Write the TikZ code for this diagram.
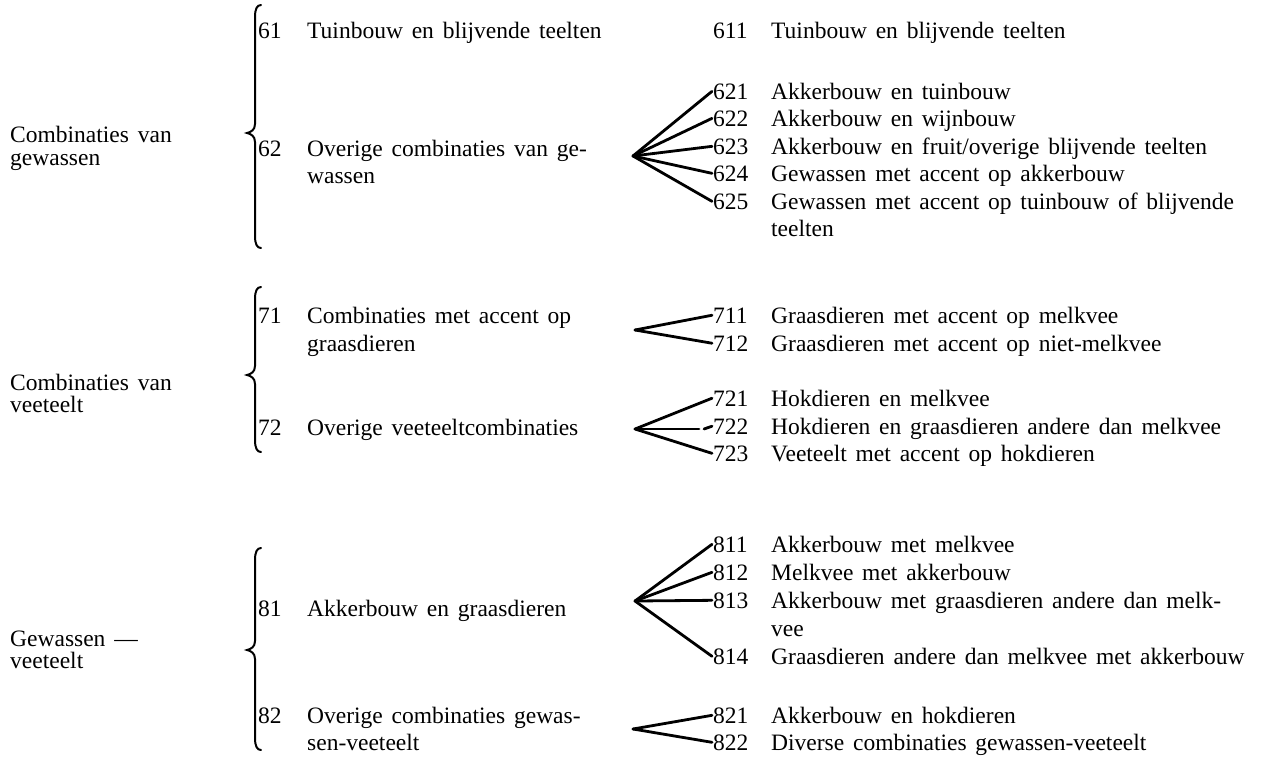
\documentclass[tikz,border=0pt]{standalone}
\usepackage{fontspec}
\setmainfont{Liberation Serif}[WordSpace=1.5]
\tikzset{
  txt/.style={anchor=base west, inner sep=0pt, font=\fontsize{23.5}{27}\selectfont},
  fanline/.style={line width=2.8pt, line cap=round},
  brc/.style={line width=2pt, line cap=round}
}
\newcommand{\drawbrace}[3]{%
  \draw[brc] (261,#1) .. controls (257,#1) and (255,#1+4) .. (255,#1+12)
    -- (255,#2-9) .. controls (255,#2-3) and (251,#2-1) .. (247,#2)
    .. controls (251,#2+1) and (255,#2+3) .. (255,#2+9)
    -- (255,#3-12) .. controls (255,#3-4) and (257,#3) .. (261,#3);}
\begin{document}
\begin{tikzpicture}[x=1pt,y=-1pt]
\useasboundingbox (0,0) rectangle (1266,756);
% left labels
\node[txt] (L6a) at (10,142) {Combinaties van};
\node[txt] (L6b) at (10,165) {gewassen};
\node[txt] (L7a) at (10,390) {Combinaties van};
\node[txt] (L7b) at (10,412) {veeteelt};
\node[txt] (L8a) at (10,646) {Gewassen —};
\node[txt] (L8b) at (10,668) {veeteelt};
% braces
\drawbrace{5}{133}{248}
\drawbrace{287}{375}{452}
\drawbrace{548}{650}{750}
% middle column
\node[txt] (m61) at (258,38) {61};
\node[txt] (t61) at (307,38) {Tuinbouw en blijvende teelten};
\node[txt] (m62) at (258,156) {62};
\node[txt] (t62a) at (307,156) {Overige combinaties van ge-};
\node[txt] (t62b) at (307,183) {wassen};
\node[txt] (m71) at (258,323) {71};
\node[txt] (t71a) at (307,323) {Combinaties met accent op};
\node[txt] (t71b) at (307,351) {graasdieren};
\node[txt] (m72) at (258,435) {72};
\node[txt] (t72) at (307,435) {Overige veeteeltcombinaties};
\node[txt] (m81) at (258,616) {81};
\node[txt] (t81) at (307,616) {Akkerbouw en graasdieren};
\node[txt] (m82) at (258,723) {82};
\node[txt] (t82a) at (307,723) {Overige combinaties gewas-};
\node[txt] (t82b) at (307,750) {sen-veeteelt};
% right column
\node[txt] (n611) at (713,38) {611};
\node[txt] (r611) at (771,38) {Tuinbouw en blijvende teelten};
\node[txt] (n621) at (713,99) {621};
\node[txt] (r621) at (771,99) {Akkerbouw en tuinbouw};
\node[txt] (n622) at (713,126) {622};
\node[txt] (r622) at (771,126) {Akkerbouw en wijnbouw};
\node[txt] (n623) at (713,154) {623};
\node[txt] (r623) at (771,154) {Akkerbouw en fruit/overige blijvende teelten};
\node[txt] (n624) at (713,181) {624};
\node[txt] (r624) at (771,181) {Gewassen met accent op akkerbouw};
\node[txt] (n625) at (713,209) {625};
\node[txt] (r625a) at (771,209) {Gewassen met accent op tuinbouw of blijvende};
\node[txt] (r625b) at (771,236) {teelten};
\node[txt] (n711) at (713,323) {711};
\node[txt] (r711) at (771,323) {Graasdieren met accent op melkvee};
\node[txt] (n712) at (713,351) {712};
\node[txt] (r712) at (771,351) {Graasdieren met accent op niet-melkvee};
\node[txt] (n721) at (713,406) {721};
\node[txt] (r721) at (771,406) {Hokdieren en melkvee};
\node[txt] (n722) at (713,434) {722};
\node[txt] (r722) at (771,434) {Hokdieren en graasdieren andere dan melkvee};
\node[txt] (n723) at (713,461) {723};
\node[txt] (r723) at (771,461) {Veeteelt met accent op hokdieren};
\node[txt] (n811) at (713,552) {811};
\node[txt] (r811) at (771,552) {Akkerbouw met melkvee};
\node[txt] (n812) at (713,580) {812};
\node[txt] (r812) at (771,580) {Melkvee met akkerbouw};
\node[txt] (n813) at (713,608) {813};
\node[txt] (r813a) at (771,608) {Akkerbouw met graasdieren andere dan melk-};
\node[txt] (r813b) at (771,636) {vee};
\node[txt] (n814) at (713,664) {814};
\node[txt] (r814) at (771,664) {Graasdieren andere dan melkvee met akkerbouw};
\node[txt] (n821) at (713,723) {821};
\node[txt] (r821) at (771,723) {Akkerbouw en hokdieren};
\node[txt] (n822) at (713,750) {822};
\node[txt] (r822) at (771,750) {Diverse combinaties gewassen-veeteelt};
% fan apexes
\coordinate (a62) at (633,156);
\coordinate (a71) at (635,330);
\coordinate (a72) at (635,429);
\coordinate (a81) at (635,601);
\coordinate (a82) at (633,729);
\coordinate (g722a) at (699,429);
\coordinate (g722b) at (704,429);
% fans
\foreach \n in {621,622,623,624,625} \draw[fanline] (a62) -- ([xshift=-1pt]n\n.west);
\foreach \n in {711,712} \draw[fanline] (a71) -- ([xshift=-1pt]n\n.west);
\draw[fanline] (a72) -- ([xshift=-1pt]n721.west);
\draw[fanline] (a72) -- (g722a);
\draw[fanline] (g722b) -- ([xshift=-1pt]n722.west);
\draw[fanline] (a72) -- ([xshift=-1pt]n723.west);
\foreach \n in {811,812,813,814} \draw[fanline] (a81) -- ([xshift=-1pt]n\n.west);
\foreach \n in {821,822} \draw[fanline] (a82) -- ([xshift=-1pt]n\n.west);
\end{tikzpicture}
\end{document}
